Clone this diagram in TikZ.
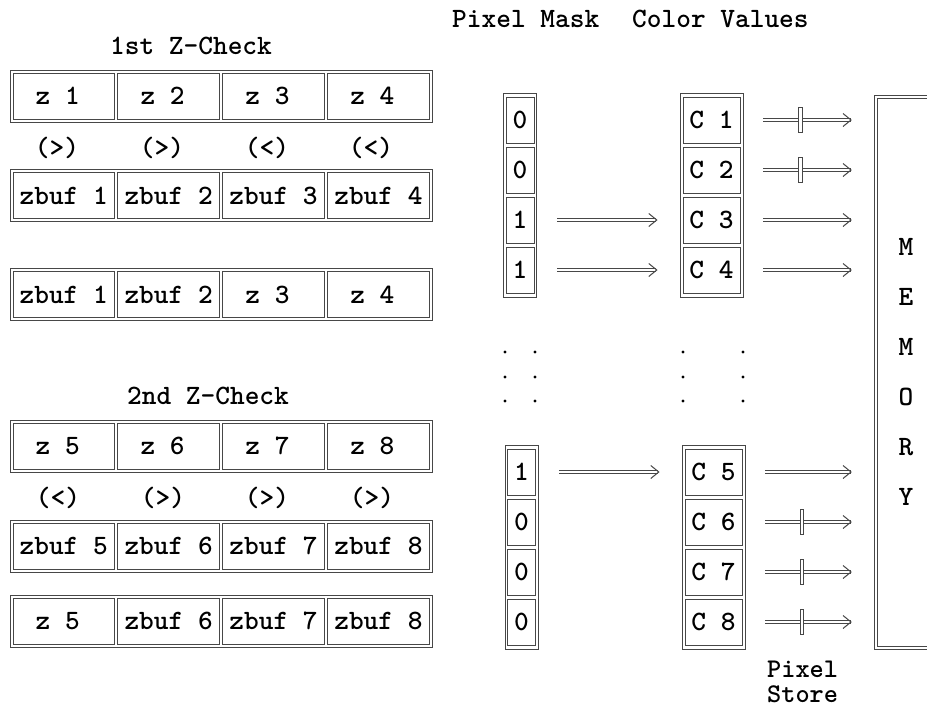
\documentclass[tikz,border=0pt]{standalone}
\usetikzlibrary{arrows.meta}
\newcommand\dfont{\ttfamily\bfseries\fontsize{28}{23}\selectfont}
\newcommand\sfont{\ttfamily\bfseries\fontsize{27}{24.5}\selectfont}
\newcommand\zl[1]{#1\hspace*{12pt}}
\begin{document}
\begin{tikzpicture}[x=1pt,y=-1pt,font=\dfont,
  lc/.style={draw=black!72, line width=0.9pt},
  rowbox/.style={lc, minimum width=422pt, minimum height=52pt, inner sep=0pt},
  cell/.style={lc, minimum width=101.4pt, minimum height=46pt, inner sep=0pt},
  maskcol/.style={lc, minimum width=33pt, minimum height=204pt, inner sep=0pt},
  maskcell/.style={lc, minimum width=28pt, minimum height=46pt, inner sep=0pt},
  colcol/.style={lc, minimum width=63pt, minimum height=204pt, inner sep=0pt},
  colcell/.style={lc, minimum width=57pt, minimum height=46pt, inner sep=0pt},
  lbl/.style={inner sep=0pt},
  dbl/.style={draw=black!72, line width=0.8pt, double=white, double distance=2pt},
  arr/.style={dbl, -{Straight Barb[length=8pt,width=13pt,line width=1pt]}},
  tick/.style={draw=black!72, fill=white, line width=0.8pt, minimum width=3.5pt, minimum height=25pt, inner sep=0pt}
]
\useasboundingbox (0,0) rectangle (927,707);

% headers
\node[lbl, anchor=base] (h1) at (191,54) {1st Z-Check};
\node[lbl, anchor=base] (h2) at (208,404) {2nd Z-Check};
\node[lbl, anchor=base west] (hpm) at (452,27) {Pixel Mask};
\node[lbl, anchor=base west] (hcv) at (632,27) {Color Values};
\node[lbl, anchor=north west, align=left, font=\sfont] (hps) at (767,661) {Pixel\\Store};

% rows
\node[rowbox] (r1) at (221,96) {};
\node[rowbox] (r2) at (221,195.5) {};
\node[rowbox] (r3) at (221,294.5) {};
\node[rowbox] (r4) at (221,446) {};
\node[rowbox] (r5) at (221,546) {};
\node[rowbox] (r6) at (221,621) {};

\node[cell] (a1) at (63.7,96) {\zl{z 1}};
\node[cell] (a2) at (168.6,96) {\zl{z 2}};
\node[cell] (a3) at (273.5,96) {\zl{z 3}};
\node[cell] (a4) at (378.4,96) {\zl{z 4}};

\node[lbl] (s1) at (57,148) {(>)};
\node[lbl] (s2) at (162,148) {(>)};
\node[lbl] (s3) at (267,148) {(<)};
\node[lbl] (s4) at (371,148) {(<)};

\node[cell] (b1) at (63.7,195.5) {zbuf 1};
\node[cell] (b2) at (168.6,195.5) {zbuf 2};
\node[cell] (b3) at (273.5,195.5) {zbuf 3};
\node[cell] (b4) at (378.4,195.5) {zbuf 4};

\node[cell] (d1) at (63.7,294.5) {zbuf 1};
\node[cell] (d2) at (168.6,294.5) {zbuf 2};
\node[cell] (d3) at (273.5,294.5) {\zl{z 3}};
\node[cell] (d4) at (378.4,294.5) {\zl{z 4}};

\node[cell] (e1) at (63.7,446) {\zl{z 5}};
\node[cell] (e2) at (168.6,446) {\zl{z 6}};
\node[cell] (e3) at (273.5,446) {\zl{z 7}};
\node[cell] (e4) at (378.4,446) {\zl{z 8}};

\node[lbl] (t1) at (58,498) {(<)};
\node[lbl] (t2) at (163,498) {(>)};
\node[lbl] (t3) at (267,498) {(>)};
\node[lbl] (t4) at (372,498) {(>)};

\node[cell] (f1) at (63.7,546) {zbuf 5};
\node[cell] (f2) at (168.6,546) {zbuf 6};
\node[cell] (f3) at (273.5,546) {zbuf 7};
\node[cell] (f4) at (378.4,546) {zbuf 8};

\node[cell] (g1) at (63.7,621) {\zl{z 5}};
\node[cell] (g2) at (168.6,621) {zbuf 6};
\node[cell] (g3) at (273.5,621) {zbuf 7};
\node[cell] (g4) at (378.4,621) {zbuf 8};

% pixel mask columns
\node[maskcol] (pm1) at (520,195) {};
\node[maskcell] (m1) at (520,120) {0};
\node[maskcell] (m2) at (520,170) {0};
\node[maskcell] (m3) at (520,220) {1};
\node[maskcell] (m4) at (520,270) {1};

\node[maskcol] (pm2) at (521.5,547) {};
\node[maskcell] (m5) at (521.5,472) {1};
\node[maskcell] (m6) at (521.5,522) {0};
\node[maskcell] (m7) at (521.5,572) {0};
\node[maskcell] (m8) at (521.5,622) {0};

% color columns
\node[colcol] (cv1) at (711.5,195) {};
\node[colcell] (c1) at (711.5,120) {C 1};
\node[colcell] (c2) at (711.5,170) {C 2};
\node[colcell] (c3) at (711.5,220) {C 3};
\node[colcell] (c4) at (711.5,270) {C 4};

\node[colcol] (cv2) at (713.5,547) {};
\node[colcell] (c5) at (713.5,472) {C 5};
\node[colcell] (c6) at (713.5,522) {C 6};
\node[colcell] (c7) at (713.5,572) {C 7};
\node[colcell] (c8) at (713.5,622) {C 8};

% dots
\foreach \yy in {352,377,401} {
  \fill (505,\yy) circle (1.6);
  \fill (535,\yy) circle (1.6);
  \fill (683,\yy) circle (1.6);
  \fill (743,\yy) circle (1.6);
}

% memory
\node[minimum width=52pt, minimum height=551pt, inner sep=0pt] (mem) at (902,372.5) {};
\draw[dbl] (mem.north east) -- (mem.north west) -- (mem.south west) -- (mem.south east);
\node[lbl] (mM1) at (906,247) {M};
\node[lbl] (mE) at (906,297) {E};
\node[lbl] (mM2) at (906,347) {M};
\node[lbl] (mO) at (906,397) {O};
\node[lbl] (mR) at (906,447) {R};
\node[lbl] (mY) at (906,497) {Y};

% mask -> color arrows
\draw[arr, shorten <=23pt, shorten >=25pt] (m3.east) -- (c3.west);
\draw[arr, shorten <=23pt, shorten >=25pt] (m4.east) -- (c4.west);
\draw[arr, shorten <=23pt, shorten >=25pt] (m5.east) -- (c5.west);

% color -> memory arrows
\draw[arr, shorten <=23pt, shorten >=24pt] (c1.east) -- (c1.east -| mem.west) node[tick, pos=0.444] (x1) {};
\draw[arr, shorten <=23pt, shorten >=24pt] (c2.east) -- (c2.east -| mem.west) node[tick, pos=0.444] (x2) {};
\draw[arr, shorten <=23pt, shorten >=24pt] (c3.east) -- (c3.east -| mem.west);
\draw[arr, shorten <=23pt, shorten >=24pt] (c4.east) -- (c4.east -| mem.west);
\draw[arr, shorten <=23pt, shorten >=24pt] (c5.east) -- (c5.east -| mem.west);
\draw[arr, shorten <=23pt, shorten >=24pt] (c6.east) -- (c6.east -| mem.west) node[tick, pos=0.444] (x6) {};
\draw[arr, shorten <=23pt, shorten >=24pt] (c7.east) -- (c7.east -| mem.west) node[tick, pos=0.444] (x7) {};
\draw[arr, shorten <=23pt, shorten >=24pt] (c8.east) -- (c8.east -| mem.west) node[tick, pos=0.444] (x8) {};
\end{tikzpicture}
\end{document}
